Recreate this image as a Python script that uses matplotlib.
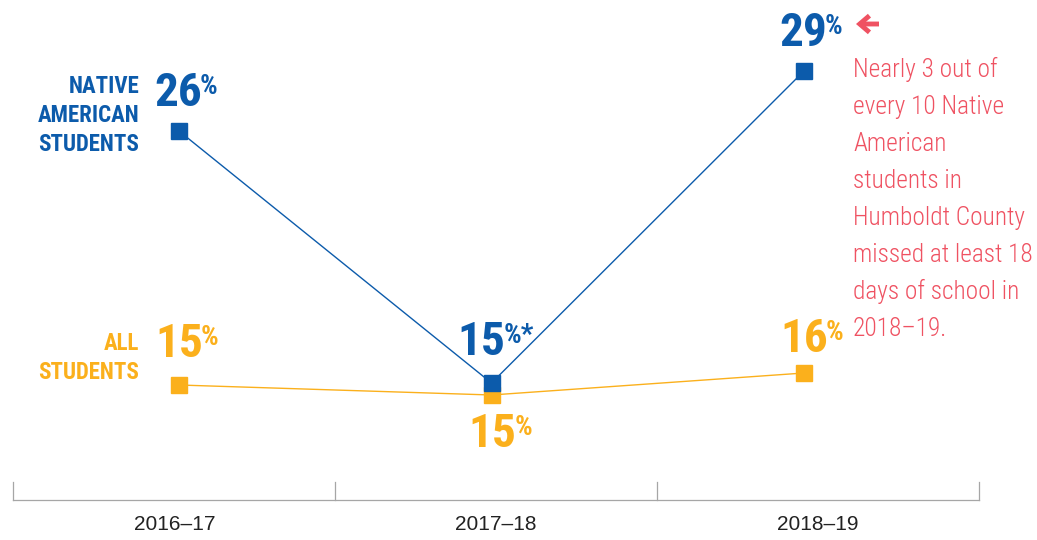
import matplotlib
matplotlib.use("Agg")
import matplotlib.pyplot as plt
from matplotlib.transforms import offset_copy

# data
years = ["2016\u201317", "2017\u201318", "2018\u201319"]
native_pct = [26, 15, 29]          # labelled values
all_pct = [15, 15, 16]
native_level = [26, 13.4, 29]      # vertical level as drawn in the chart
all_level = [13.3, 12.8, 13.9]
native_notes = ["", "*", ""]
note_lines = ["Nearly 3 out of", "every 10 Native", "American", "students in",
              "Humboldt County", "missed at least 18", "days of school in",
              "2018\u201319."]

BLUE = "#0c5bab"
ORANGE = "#fbb01c"
RED = "#ef5262"
GREY = "#a6a6a6"
NARROW = ["Roboto Condensed", "Archivo Narrow", "DejaVu Sans"]
SANS = ["Liberation Sans", "DejaVu Sans"]

fig = plt.figure(figsize=(10.37, 5.4), dpi=100)
ax = fig.add_axes([0, 0, 1, 1])
ax.axis("off")
ax.set_xlim(-0.5728, 2.7456)
ax.set_ylim(5.55, 32.55)

x = list(range(len(years)))
ax.plot(x, all_level, color=ORANGE, lw=1.0, marker="s", ms=11.5, zorder=2)
ax.plot(x, native_level, color=BLUE, lw=1.0, marker="s", ms=11.5, zorder=3)

# bottom category axis
edges = [-0.53, 0.5, 1.53, 2.56]
base = 7.55
ax.plot([edges[0], edges[-1]], [base, base], color=GREY, lw=0.9)
for e in edges:
    ax.plot([e, e], [base, base + 0.9], color=GREY, lw=0.9)
for i, yr in enumerate(years):
    ax.text((edges[i] + edges[i + 1]) / 2, 6.05, yr, ha="center", va="baseline",
            fontsize=15, family=SANS, color="#222222")


def pct_label(xi, yi, val, color, dx, dy, note=""):
    t = ax.annotate(str(val), (xi, yi), xytext=(dx, dy), textcoords="offset pixels",
                    ha="center", va="baseline", fontsize=34, fontweight="bold",
                    family=NARROW, color=color)
    ax.annotate("%" + note, (1.0, 1.0), xycoords=t, xytext=(-2, -2),
                textcoords="offset pixels", ha="left", va="top", fontsize=20,
                fontweight="bold", family=NARROW, color=color)


for i in x:
    if native_notes[i]:
        pct_label(i, native_level[i], native_pct[i], BLUE, -10, 28, native_notes[i])
    else:
        pct_label(i, native_level[i], native_pct[i], BLUE, -1, 25)
pct_label(0, all_level[0], all_pct[0], ORANGE, 0, 28)
pct_label(1, all_level[1], all_pct[1], ORANGE, 1, -52)
pct_label(2, all_level[2], all_pct[2], ORANGE, 0, 21)

# series names
for k, line in enumerate(["NATIVE", "AMERICAN", "STUDENTS"]):
    ax.annotate(line, (0, native_level[0]), xytext=(-40, 38 - 29 * k),
                textcoords="offset pixels", ha="right", va="baseline",
                fontsize=16.5, fontweight="bold", family=NARROW, color=BLUE)
for k, line in enumerate(["ALL", "STUDENTS"]):
    ax.annotate(line, (0, all_level[0]), xytext=(-40, 35 - 29 * k),
                textcoords="offset pixels", ha="right", va="baseline",
                fontsize=16.5, fontweight="bold", family=NARROW, color=ORANGE)

# callout
for k, line in enumerate(note_lines):
    ax.annotate(line, (2, native_level[2]), xytext=(49, -6 - 37 * k),
                textcoords="offset pixels", ha="left", va="baseline",
                fontsize=18.3, fontweight="light", family=NARROW, color=RED)
tr = offset_copy(ax.transData, fig=fig, x=52, y=47, units="dots")
ax.annotate("", xy=(2, native_level[2]), xycoords=tr, xytext=(23, 0),
            textcoords="offset pixels",
            arrowprops=dict(arrowstyle="->,head_length=0.7,head_width=0.6",
                            color=RED, lw=3.5, shrinkA=0, shrinkB=0,
                            joinstyle="miter", capstyle="butt"))

fig.savefig("out.png", dpi=100)
